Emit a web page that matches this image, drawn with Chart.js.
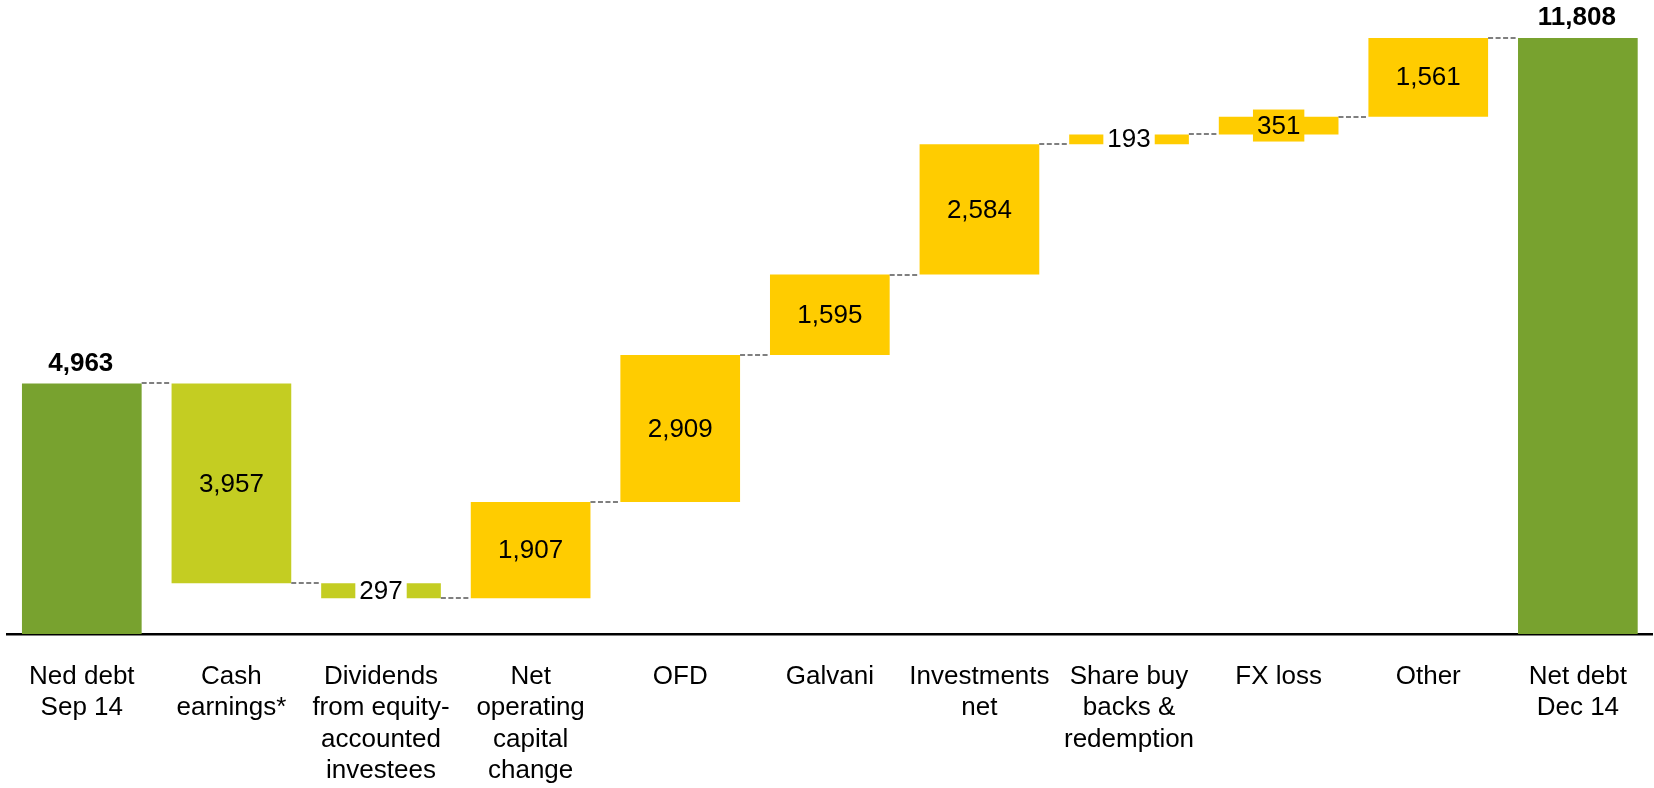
<!DOCTYPE html>
<html>
<head>
<meta charset="utf-8">
<script src="https://cdn.jsdelivr.net/npm/chart.js@4.4.0/dist/chart.umd.min.js"></script>
<style>
  html, body { margin: 0; padding: 0; background: #fff; }
  #wrap { width: 1654px; height: 788px; }
</style>
</head>
<body>
<div id="wrap"><canvas id="waterfall"></canvas></div>
<script>
// data
const categories = [
  ["Ned debt", "Sep 14"],
  ["Cash", "earnings*"],
  ["Dividends", "from equity-", "accounted", "investees"],
  ["Net", "operating", "capital", "change"],
  ["OFD"],
  ["Galvani"],
  ["Investments", "net"],
  ["Share buy", "backs &", "redemption"],
  ["FX loss"],
  ["Other"],
  ["Net debt", "Dec 14"]
];
const changes = [4963, -3957, -297, 1907, 2909, 1595, 2584, 193, 351, 1561, 11808];
const isTotal = [true, false, false, false, false, false, false, false, false, false, true];

// styles
const GREEN = "#78A22F";
const LIME = "#C4CD22";
const YELLOW = "#FFCC00";
const FONT = "'Liberation Sans', Arial, sans-serif";
const boxedLabels = { 2: "#ffffff", 7: "#ffffff", 8: YELLOW };

// build floating ranges
let running = 0;
const ranges = [];
const colors = [];
changes.forEach((v, i) => {
  if (isTotal[i]) {
    ranges.push([0, v]);
    running = v;
    colors.push(GREEN);
  } else {
    ranges.push([running, running + v]);
    running += v;
    colors.push(v < 0 ? LIME : YELLOW);
  }
});

const fmt = v => Math.abs(v).toLocaleString("en-US");

const waterfallExtras = {
  id: "waterfallExtras",
  afterDatasetsDraw(chart) {
    const ctx = chart.ctx;
    const meta = chart.getDatasetMeta(0);
    const y = chart.scales.y;

    // dashed connectors
    ctx.save();
    ctx.strokeStyle = "#7f7f7f";
    ctx.lineWidth = 2;
    ctx.setLineDash([5, 2.5]);
    for (let i = 0; i < ranges.length - 1; i++) {
      const a = meta.data[i], b = meta.data[i + 1];
      const py = Math.round(y.getPixelForValue(ranges[i][1]));
      ctx.beginPath();
      ctx.moveTo(a.x + a.width / 2, py);
      ctx.lineTo(b.x - b.width / 2, py);
      ctx.stroke();
    }
    ctx.restore();

    // value labels
    ctx.save();
    ctx.textAlign = "center";
    ctx.textBaseline = "middle";
    meta.data.forEach((bar, i) => {
      const txt = fmt(changes[i]);
      if (isTotal[i]) {
        ctx.font = "bold 26px " + FONT;
        ctx.fillStyle = "#000";
        ctx.fillText(txt, bar.x - 1, y.getPixelForValue(ranges[i][1]) - 20);
        return;
      }
      ctx.font = "26px " + FONT;
      const cy = (y.getPixelForValue(ranges[i][0]) + y.getPixelForValue(ranges[i][1])) / 2;
      if (boxedLabels[i]) {
        const w = ctx.measureText(txt).width;
        ctx.fillStyle = boxedLabels[i];
        ctx.fillRect(bar.x - w / 2 - 4, cy - 16, w + 8, 32);
      }
      ctx.fillStyle = "#000";
      ctx.fillText(txt, bar.x, cy + 1);
    });
    ctx.restore();
  }
};

new Chart(document.getElementById("waterfall"), {
  type: "bar",
  data: {
    labels: categories,
    datasets: [{
      data: ranges,
      backgroundColor: colors,
      borderWidth: 0,
      borderSkipped: false,
      barPercentage: 0.8,
      categoryPercentage: 1.0
    }]
  },
  options: {
    responsive: true,
    maintainAspectRatio: false,
    animation: false,
    layout: { padding: { left: 7, right: 0, top: 3, bottom: 0 } },
    plugins: {
      legend: { display: false },
      tooltip: { enabled: false }
    },
    scales: {
      x: {
        grid: { display: false, drawTicks: false },
        border: { display: true, color: "#000", width: 2.5 },
        afterFit(scale) { scale.height = 154; },
        ticks: {
          color: "#000",
          padding: 27,
          autoSkip: false,
          maxRotation: 0,
          font: { family: FONT, size: 26, lineHeight: 1.21 }
        }
      },
      y: {
        display: false,
        min: 0,
        max: 12500
      }
    }
  },
  plugins: [waterfallExtras]
});
</script>
</body>
</html>
